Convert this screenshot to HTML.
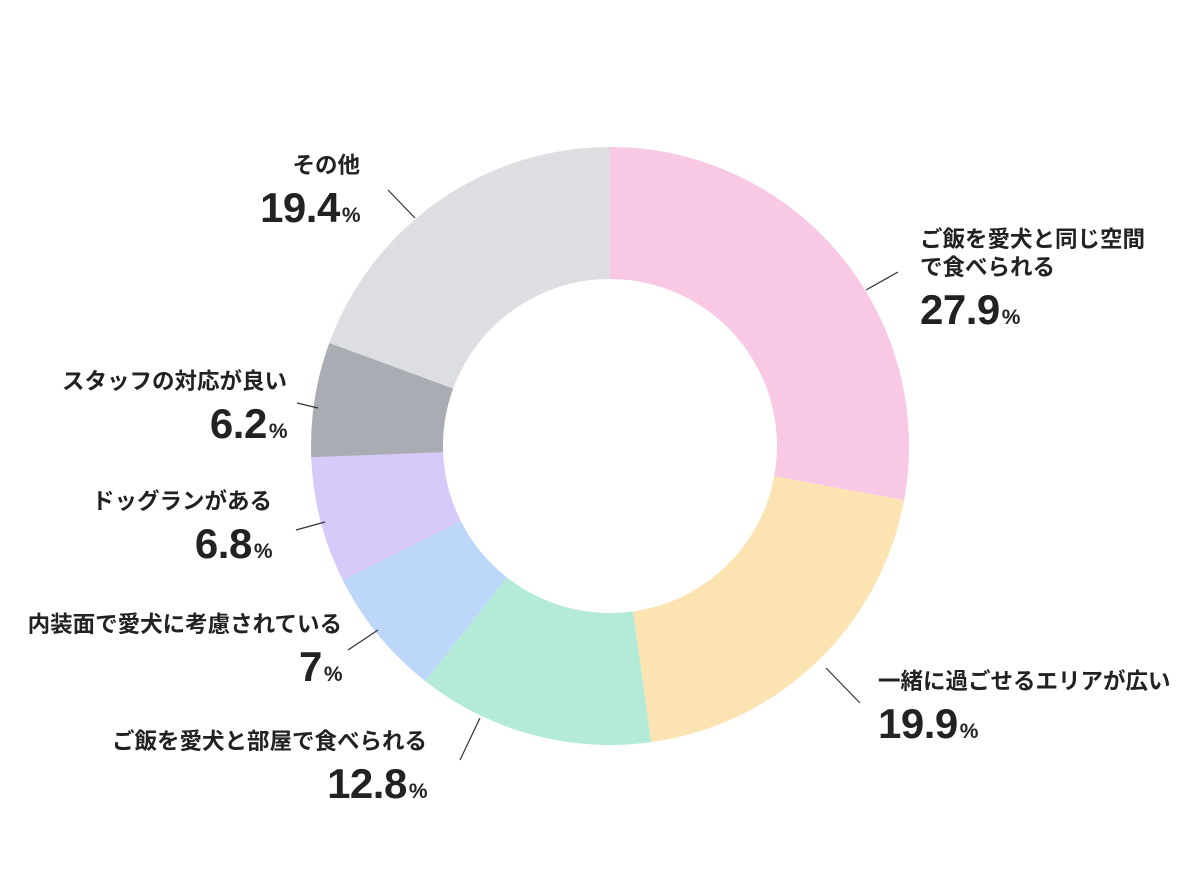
<!DOCTYPE html>
<html><head><meta charset="utf-8"><style>
body{margin:0;width:1200px;height:896px;background:#fff;position:relative;overflow:hidden;font-family:"Liberation Sans","Noto Sans CJK JP",sans-serif;color:#222}
.l{position:absolute;font-weight:bold;font-size:22.5px;line-height:28px;white-space:nowrap}
.r{text-align:right}
.n{font-size:42px;line-height:46px;font-weight:bold;letter-spacing:-0.5px;margin-top:5px}
.n span{font-size:21px;font-weight:bold;margin-left:2px}
svg{position:absolute;left:0;top:0}
</style></head><body>
<svg id="s" width="1200" height="896"></svg>
<div class="l" style="left:920px;top:226px">ご飯を愛犬と同じ空間<br>で食べられる<div class="n">27.9<span>%</span></div></div>
<div class="l" style="left:878px;top:668px">一緒に過ごせるエリアが広い<div class="n">19.9<span>%</span></div></div>
<div class="l r" style="right:773px;top:728px">ご飯を愛犬と部屋で食べられる<div class="n">12.8<span>%</span></div></div>
<div class="l r" style="right:858px;top:611px">内装面で愛犬に考慮されている<div class="n">7<span>%</span></div></div>
<div class="l r" style="right:928px;top:488px">ドッグランがある<div class="n">6.8<span>%</span></div></div>
<div class="l r" style="right:913px;top:368px">スタッフの対応が良い<div class="n">6.2<span>%</span></div></div>
<div class="l r" style="right:840px;top:152px">その他<div class="n">19.4<span>%</span></div></div>
<script>
var d=[[27.9,"#f9c8e5"],[19.9,"#fbe3b2"],[12.8,"#b3ebd8"],[7,"#bdd7fb"],[6.8,"#d8c9fb"],[6.2,"#a9adb3"],[19.4,"#dcdee2"]];
var cx=610,cy=446,R=299,r=167,a=0,h="";
function p(rad,t){var q=(t-0.25)*2*Math.PI;return [cx+rad*Math.cos(q),cy+rad*Math.sin(q)];}
d.forEach(function(e){var b=a+e[0]/100,lg=e[0]>50?1:0;
var p1=p(R,a),p2=p(R,b),p3=p(r,b),p4=p(r,a);
h+='<path fill="'+e[1]+'" d="M'+p1+'A'+R+','+R+' 0 '+lg+' 1 '+p2+'L'+p3+'A'+r+','+r+' 0 '+lg+' 0 '+p4+'Z"/>';a=b;});
[[866,290,898,272],[826,668,860,703],[480,718,460,760],[378,630,348,650],[325,522,296,530],[318,408,297,403],[388,190,415,218]].forEach(function(l){
h+='<line x1="'+l[0]+'" y1="'+l[1]+'" x2="'+l[2]+'" y2="'+l[3]+'" stroke="#333" stroke-width="1.2"/>';});
document.getElementById("s").innerHTML=h;
</script>
</body></html>
